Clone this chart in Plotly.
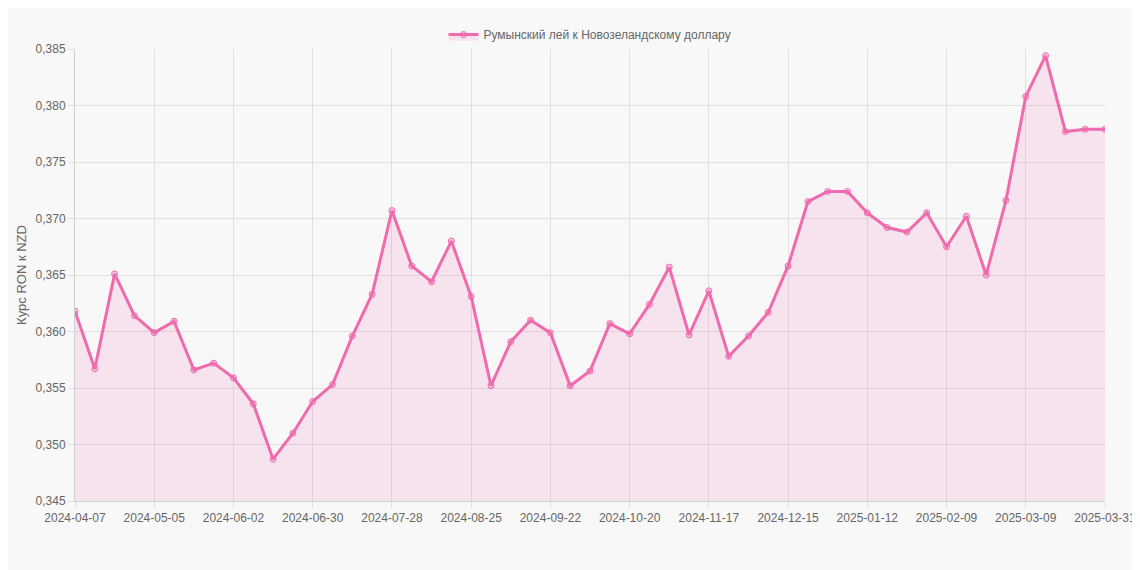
import plotly.graph_objects as go
import datetime as dt

start = dt.date(2024, 4, 7)
dates = [(start + dt.timedelta(weeks=i)).isoformat() for i in range(52)] + ["2025-03-31"]
values = [0.3618, 0.3567, 0.3651, 0.3614, 0.3599, 0.3609, 0.3566, 0.3572, 0.3559, 0.3536,
          0.3487, 0.3510, 0.3538, 0.3553, 0.3596, 0.3633, 0.3707, 0.3658, 0.3644, 0.3680,
          0.3631, 0.3552, 0.3591, 0.3610, 0.3599, 0.3552, 0.3565, 0.3607, 0.3598, 0.3624,
          0.3657, 0.3597, 0.3636, 0.3578, 0.3596, 0.3617, 0.3658, 0.3715, 0.3724, 0.3724,
          0.3705, 0.3692, 0.3688, 0.3705, 0.3675, 0.3702, 0.3650, 0.3716, 0.3808, 0.3844,
          0.3777, 0.3779, 0.3779]
tick_idx = list(range(0, 49, 4)) + [52]
tick_labels = [dates[i] for i in tick_idx]

fig = go.Figure(go.Scatter(
    x=list(range(len(values))), y=values, mode="lines+markers",
    name="Румынский лей к Новозеландскому доллару",
    line=dict(color="#f06aae", width=3),
    marker=dict(size=6, color="rgba(240,106,174,0.3)", line=dict(color="#f06aae", width=1)),
    fill="tozeroy", fillcolor="rgba(240,106,174,0.15)"))
fig.update_layout(
    width=1140, height=570, separators=", ",
    paper_bgcolor="#f8f8f8", plot_bgcolor="#f8f8f8",
    margin=dict(l=53, r=34, t=16, b=77),
    font=dict(family="Liberation Sans, Arial", size=12, color="#666"),
    showlegend=True,
    legend=dict(orientation="h", x=0.5, xanchor="center", y=1.0, yanchor="bottom",
                font=dict(size=12, color="#666")),
    xaxis=dict(range=[0, 52], tickvals=tick_idx, ticktext=tick_labels, showgrid=True,
               gridcolor="#e0e0e0", zeroline=False, ticks="outside", ticklen=6, tickcolor="#e0e0e0",
               linecolor="#d0d0d0", showline=True, tickangle=0),
    yaxis=dict(range=[0.345, 0.385], dtick=0.005, tickformat=".3f", showgrid=True,
               gridcolor="#e0e0e0", zeroline=False, ticks="outside", ticklen=6, tickcolor="#e0e0e0",
               title=dict(text="Курс RON к NZD", font=dict(size=13, color="#666"), standoff=6),
               linecolor="#d0d0d0", showline=True),
)
fig.write_html("out.html")
